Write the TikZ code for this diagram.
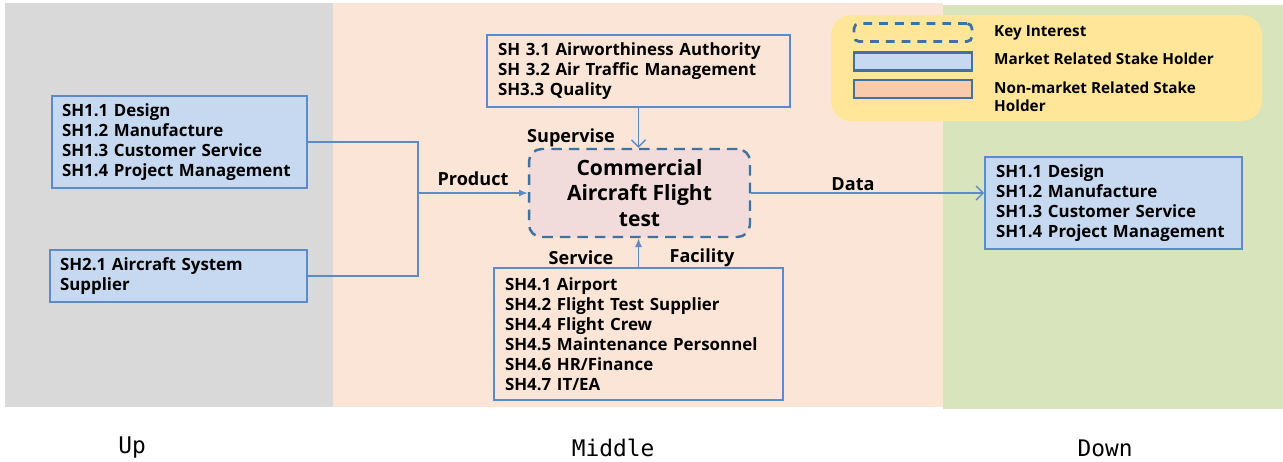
\documentclass[tikz,border=0pt]{standalone}
\usepackage{fontspec}
\setmainfont{Open Sans}
\newfontfamily\bottomfont{DejaVu Sans Mono}
\usepackage{tikz}
\usetikzlibrary{arrows.meta, positioning}

\definecolor{bggray}{HTML}{D9D9D9}
\definecolor{bgpeach}{HTML}{FBE5D6}
\definecolor{bggreen}{HTML}{D8E4BC}
\definecolor{mktfill}{HTML}{C6D9F0}
\definecolor{linkblue}{HTML}{5B8BC9}
\definecolor{corefill}{HTML}{F2DCDB}
\definecolor{coreline}{HTML}{41719C}
\definecolor{legendyellow}{HTML}{FFE699}
\definecolor{nonmktfill}{HTML}{F8CBAD}

\begin{document}
\begin{tikzpicture}[x=0.02cm, y=-0.02cm,
    txt/.style={font=\fontsize{9.6}{11.4}\selectfont\bfseries},
    lbl/.style={font=\fontsize{10.3}{12}\selectfont\bfseries},
    mkt/.style={txt, draw=linkblue, fill=mktfill, line width=1.1pt, align=left, inner xsep=0.2cm},
    nonmkt/.style={txt, draw=linkblue, fill=bgpeach, line width=1.1pt, align=left, inner xsep=0.22cm},
    core/.style={draw=coreline, fill=corefill, line width=1.4pt, dashed, dash pattern=on 6pt off 4pt,
        rounded corners=0.25cm, align=center, minimum width=4.42cm, minimum height=1.76cm,
        font=\fontsize{12}{14.5}\selectfont\bfseries},
    link/.style={draw=linkblue, line width=0.8pt},
    tip/.style={-{Latex[length=5pt, width=4pt]}},
    barb/.style={-{Straight Barb[length=4pt, width=8pt]}},
    lgbox/.style={line width=1.6pt, minimum width=2.36cm, minimum height=0.36cm, inner sep=0pt},
    lgtxt/.style={font=\fontsize{8.7}{10.2}\selectfont\bfseries, anchor=west, align=left}]

    \useasboundingbox (0,0) rectangle (1283,461);

    % Three zones
    \fill[bggray] (5,3) rectangle (333,407);
    \fill[bgpeach] (333,3) rectangle (943,407);
    \fill[bggreen] (943,5) rectangle (1283,409);

    % UP: suppliers
    \node[mkt, text width=4.7cm, minimum height=1.84cm] (sh1up) at (179.5,142)
        {SH1.1 Design\\SH1.2 Manufacture\\SH1.3 Customer Service\\SH1.4 Project Management};
    \node[mkt, text width=4.74cm, minimum height=1.04cm] (sh2) at (178.5,276)
        {SH2.1 Aircraft System\\Supplier};

    % MIDDLE: key interest and its stake holders
    \node[core] (flight) at (639.5,193) {Commercial\\Aircraft Flight\\test};
    \node[nonmkt, text width=5.62cm, minimum height=1.44cm] (sh3) at (638.5,71)
        {SH 3.1 Airworthiness Authority\\SH 3.2 Air Traffic Management\\SH3.3 Quality};
    \node[nonmkt, text width=5.34cm, minimum height=2.64cm] (sh4) at (638.5,334)
        {SH4.1 Airport\\SH4.2 Flight Test Supplier\\SH4.4 Flight Crew\\SH4.5 Maintenance Personnel\\SH4.6 HR/Finance\\SH4.7 IT/EA};

    % DOWN: users of data
    \node[mkt, text width=4.70cm, minimum height=1.84cm, inner xsep=0.22cm] (sh1down) at (1113.5,203)
        {SH1.1 Design\\SH1.2 Manufacture\\SH1.3 Customer Service\\SH1.4 Project Management};

    % Connectors
    \coordinate (join) at (418,193);
    \draw[link] (sh1up.east) -| (join) |- (sh2.east);
    \draw[link, tip] (join) -- (flight.west);
    \draw[link, barb] (sh3.south) -- (sh3.south |- flight.north);
    \draw[link, tip] (sh4.north) -- (sh4.north |- flight.south);
    \draw[link, barb] (flight.east) -- (flight.east -| sh1down.west);

    \node[lbl] (product) at (473,179) {Product};
    \node[lbl] (supervise) at (571,138) {Supervise};
    \node[lbl] (service) at (581,258) {Service};
    \node[lbl] (facility) at (702,258) {Facility};
    \node[lbl] (data) at (853,184) {Data};

    % Legend
    \fill[legendyellow, rounded corners=0.4cm] (831,15) rectangle (1262,121);
    \node[lgbox, draw=coreline, dashed, dash pattern=on 5pt off 4pt, rounded corners=0.1cm] (lgkey) at (913,32.5) {};
    \node[lgbox, draw=coreline, fill=mktfill] (lgmkt) at (913,61.5) {};
    \node[lgbox, draw=coreline, fill=nonmktfill] (lgnon) at (913,89) {};
    \node[lgtxt] (lgkeytxt) at (988,33) {Key Interest};
    \node[lgtxt] (lgmkttxt) at (988,59) {Market Related Stake Holder};
    \node[lgtxt] (lgnontxt) at (988,97) {Non-market Related Stake\\Holder};

    % Zone names
    \node[font=\bottomfont\fontsize{13}{15}\selectfont] (up) at (132,448) {Up};
    \node[font=\bottomfont\fontsize{13}{15}\selectfont] (middle) at (613,448) {Middle};
    \node[font=\bottomfont\fontsize{13}{15}\selectfont] (down) at (1105,448) {Down};
\end{tikzpicture}
\end{document}
